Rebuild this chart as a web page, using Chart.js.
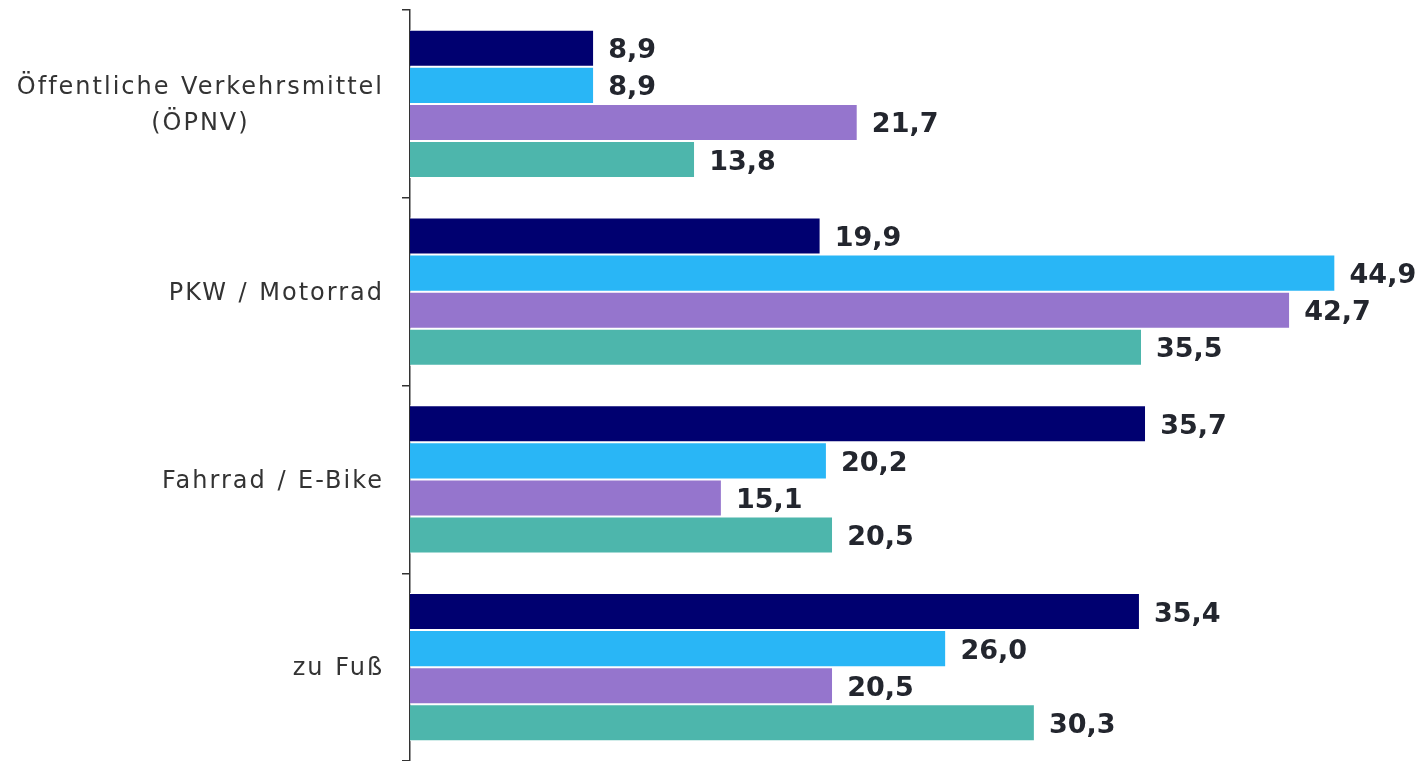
<!DOCTYPE html>
<html>
<head>
<meta charset="utf-8">
<script src="https://cdn.jsdelivr.net/npm/chart.js@4"></script>
<style>
html,body{margin:0;padding:0;background:#fff;}
#wrap{width:1423px;height:761px;}
</style>
</head>
<body>
<div id="wrap"><canvas id="c" width="1423" height="761"></canvas></div>
<script>
const categories = [["Öffentliche Verkehrsmittel", "(ÖPNV)"], "PKW / Motorrad", "Fahrrad / E-Bike", "zu Fuß"];
const seriesNames = ["Serie 1", "Serie 2", "Serie 3", "Serie 4"];
const series1 = [8.9, 19.9, 35.7, 35.4];
const series2 = [8.9, 44.9, 20.2, 26.0];
const series3 = [21.7, 42.7, 15.1, 20.5];
const series4 = [13.8, 35.5, 20.5, 30.3];
const colors = ["#000070", "#29b6f6", "#9575cd", "#4db6ac"];

const allSeries = [series1, series2, series3, series4];

const valueLabels = {
  id: 'valueLabels',
  afterDatasetsDraw(chart) {
    const ctx = chart.ctx;
    ctx.save();
    ctx.font = 'bold 27px "DejaVu Sans", Verdana, sans-serif';
    ctx.fillStyle = '#23262e';
    ctx.textBaseline = 'middle';
    ctx.textAlign = 'left';
    chart.data.datasets.forEach((ds, i) => {
      const meta = chart.getDatasetMeta(i);
      meta.data.forEach((bar, j) => {
        const v = ds.data[j];
        ctx.fillText(v.toFixed(1).replace('.', ','), bar.x + 15, bar.y + 3);
      });
    });
    ctx.restore();
  }
};

const categoryLabels = {
  id: 'categoryLabels',
  afterDraw(chart) {
    const ctx = chart.ctx;
    const yScale = chart.scales.y;
    const rightEdge = 384;
    const lineGap = 36;
    ctx.save();
    ctx.font = '24px "DejaVu Sans", Verdana, sans-serif';
    if ('letterSpacing' in ctx) ctx.letterSpacing = '2px';
    if ('wordSpacing' in ctx) ctx.wordSpacing = '1px';
    ctx.fillStyle = '#333333';
    ctx.textBaseline = 'middle';
    ctx.textAlign = 'center';
    chart.data.labels.forEach((lab, i) => {
      const lines = Array.isArray(lab) ? lab : [lab];
      const w = Math.max(...lines.map(l => ctx.measureText(l).width));
      const cx = rightEdge - w / 2;
      const cy = yScale.getPixelForValue(i) + 2;
      const y0 = cy - (lines.length - 1) * lineGap / 2;
      lines.forEach((l, k) => ctx.fillText(l, cx, y0 + k * lineGap));
    });
    ctx.restore();
  }
};

new Chart(document.getElementById('c'), {
  type: 'bar',
  data: {
    labels: categories,
    datasets: allSeries.map((d, i) => ({
      label: seriesNames[i],
      data: d,
      backgroundColor: colors[i],
      borderColor: '#ffffff',
      borderWidth: {top: 1, bottom: 1, left: 0, right: 0},
      borderSkipped: false,
      categoryPercentage: 0.79,
      barPercentage: 1.0
    }))
  },
  options: {
    indexAxis: 'y',
    responsive: false,
    animation: false,
    layout: {padding: {top: 10, bottom: 0, left: 0, right: 4}},
    plugins: {legend: {display: false}, tooltip: {enabled: false}},
    scales: {
      x: {
        display: false,
        min: 0,
        max: 49
      },
      y: {
        afterFit(scale) { scale.width = 410; scale.paddingTop = 0; scale.paddingBottom = 0; },
        border: {display: true, color: '#333', width: 1.5},
        grid: {display: true, offset: true, drawOnChartArea: false, drawTicks: true, tickLength: 8, color: '#333', lineWidth: 1.5},
        ticks: {display: false}
      }
    }
  },
  plugins: [valueLabels, categoryLabels]
});
</script>
</body>
</html>
